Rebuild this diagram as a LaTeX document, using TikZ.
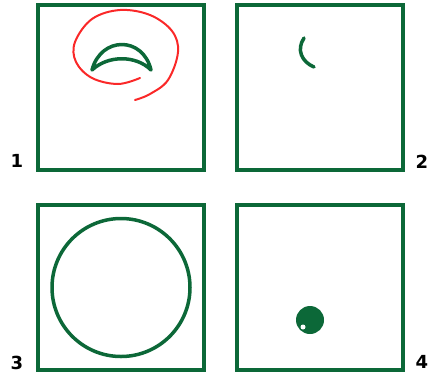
\documentclass[tikz,border=0pt]{standalone}
\usepackage{fontspec}
\setsansfont{DejaVu Sans}
\definecolor{leafgreen}{RGB}{12,104,56}
\definecolor{penred}{RGB}{250,40,40}

\begin{document}
\begin{tikzpicture}[x=1pt, y=-1pt,
	panel/.style={draw=leafgreen, line width=4pt, minimum width=166pt, minimum height=165pt, inner sep=0pt},
	num/.style={font=\sffamily\bfseries\fontsize{18}{18}\selectfont, inner sep=0pt},
	stroke/.style={draw=leafgreen, line width=3.5pt, line cap=round, line join=round}]
	\useasboundingbox (0,0) rectangle (430,378);
	% the four panels
	\node[panel] (p1) at (121,87.5) {};
	\node[panel] (p2) at (319.5,87.5) {};
	\node[panel] (p3) at (121,287.5) {};
	\node[panel] (p4) at (319.5,287.5) {};
	\node[num] (n1) at (17,161) {1};
	\node[num] (n2) at (422,162) {2};
	\node[num] (n3) at (17,363) {3};
	\node[num] (n4) at (422,362) {4};
	% panel 1: arch with red spiral
	\draw[stroke] (92,70) .. controls (101,36) and (143,36) .. (151,70)
		.. controls (136,55) and (108,55) .. cycle;
	\draw[penred, line width=2pt, line cap=round] plot[smooth, tension=0.6] coordinates
		{(140,78) (118,84) (92,78) (76,62) (75,42) (92,19) (120,10) (150,15) (172,31) (178,52) (168,80) (150,94) (135,100)};
	% panel 2: small arc
	\draw[stroke] (304,38) .. controls (296,50) and (302,62) .. (314,67);
	% panel 3: circle
	\draw[leafgreen, line width=3.5pt] (p3.center) circle (69);
	% panel 4: dot
	\fill[leafgreen] (310,320) circle (14);
	\fill[white] (303,327) circle (2.5);
\end{tikzpicture}
\end{document}
